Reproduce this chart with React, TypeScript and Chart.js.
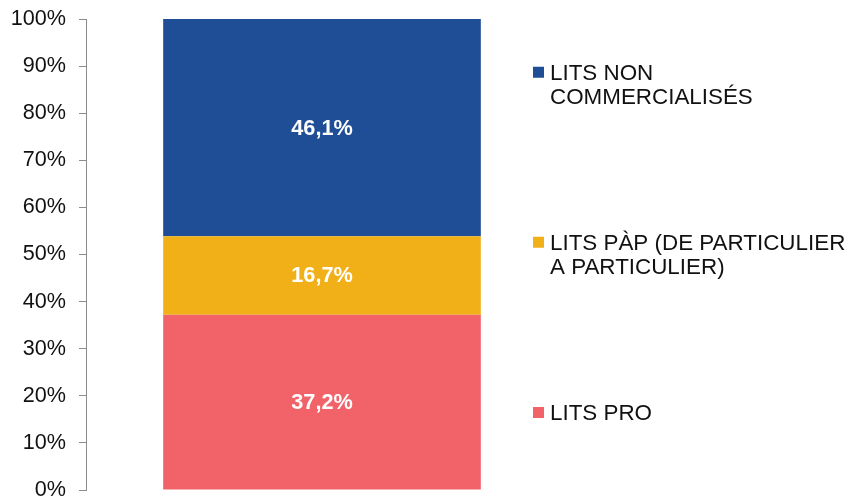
import React, { useEffect, useRef } from "react";
import { Chart, registerables } from "chart.js";

Chart.register(...registerables);

const categories = [""];
const seriesNames = ["LITS PRO", "LITS PÀP (DE PARTICULIER A PARTICULIER)", "LITS NON COMMERCIALISÉS"];
const legendLines = [["LITS PRO"], ["LITS PÀP (DE PARTICULIER", "A PARTICULIER)"], ["LITS NON", "COMMERCIALISÉS"]];
const litsPro = [37.2];
const litsPap = [16.7];
const litsNon = [46.1];
const colors = ["#F26369", "#F2B018", "#1F4E96"];
const yTicks = [0, 10, 20, 30, 40, 50, 60, 70, 80, 90, 100];

const FONT = "'Liberation Sans', Arial, sans-serif";

export default function App() {
  const ref = useRef<HTMLCanvasElement>(null);
  useEffect(() => {
    document.body.style.margin = "0";
    const ctx = ref.current!.getContext("2d")!;
    const seriesData = [litsPro, litsPap, litsNon];
    const overlay = {
      id: "overlay",
      afterDatasetsDraw(chart: any) {
        const c = chart.ctx;
        c.save();
        // data labels
        c.fillStyle = "#ffffff";
        c.font = `bold 21.7px ${FONT}`;
        c.textAlign = "center";
        c.textBaseline = "middle";
        chart.data.datasets.forEach((ds: any, i: number) => {
          const meta = chart.getDatasetMeta(i);
          meta.data.forEach((bar: any, j: number) => {
            const y = (bar.y + bar.base) / 2;
            c.fillText(ds.data[j].toFixed(1).replace(".", ",") + "%", bar.x, y + 1);
          });
        });
        // legend
        const legendY = [413, 255, 85];
        c.font = `22.4px ${FONT}`;
        c.textAlign = "left";
        c.fillStyle = "#111111";
        legendLines.forEach((lines, i) => {
          const n = lines.length;
          const top = legendY[i] - ((n - 1) * 24.5) / 2;
          c.fillStyle = colors[i];
          c.fillRect(533, top - 6, 11, 11);
          c.fillStyle = "#111111";
          lines.forEach((ln, k) => {
            c.fillText(ln, 550, top + k * 24.5 + 1);
          });
        });
        c.restore();
      },
    };
    const chart = new Chart(ctx, {
      type: "bar",
      data: {
        labels: categories,
        datasets: seriesData.map((d, i) => ({
          label: seriesNames[i],
          data: d,
          backgroundColor: colors[i],
          borderWidth: 0,
          barPercentage: 1,
          categoryPercentage: 0.673,
        })),
      },
      options: {
        responsive: false,
        animation: false,
        layout: { padding: { left: 0, right: 292, top: 19, bottom: 7 } },
        plugins: { legend: { display: false }, tooltip: { enabled: false } },
        scales: {
          x: {
            stacked: true,
            display: false,
          },
          y: {
            stacked: true,
            min: 0,
            max: 100,
            afterBuildTicks: (s: any) => {
              s.ticks = yTicks.map((v) => ({ value: v }));
            },
            afterFit: (s: any) => {
              s.width = 86;
              s.paddingTop = 0;
              s.paddingBottom = 0;
            },
            border: { display: true, color: "#8c8c8c", width: 1 },
            grid: {
              drawOnChartArea: false,
              drawTicks: true,
              tickLength: 7,
              color: "#8c8c8c",
            },
            ticks: {
              padding: 13,
              color: "#111111",
              font: { family: FONT, size: 21.6 },
              callback: (v: any) => v + "%",
            },
          },
        },
      },
      plugins: [overlay],
    });
    return () => chart.destroy();
  }, []);
  return (
    <div style={{ position: "absolute", left: 0, top: 0, width: 850, height: 497, background: "#fff" }}>
      <canvas ref={ref} width={850} height={497} style={{ display: "block" }} />
    </div>
  );
}
